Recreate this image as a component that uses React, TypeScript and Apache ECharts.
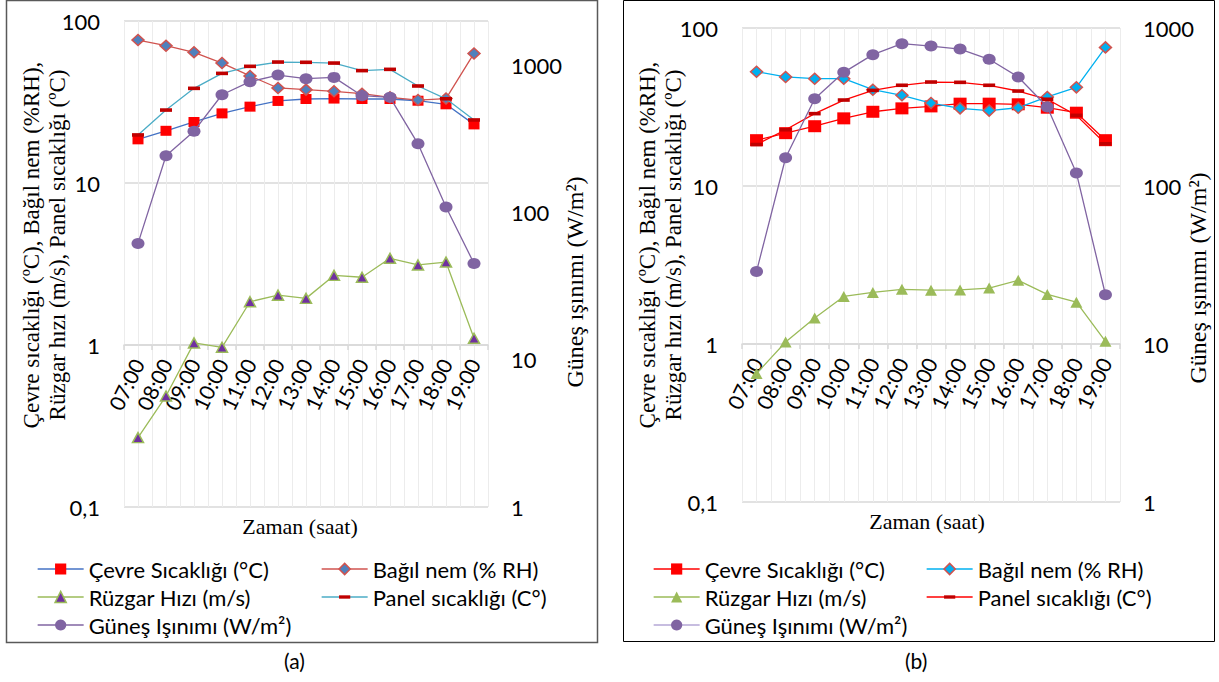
import React, { useEffect, useRef } from 'react';
import * as echarts from 'echarts';

// Categories
const hours = ['07:00', '08:00', '09:00', '10:00', '11:00', '12:00', '13:00', '14:00', '15:00', '16:00', '17:00', '18:00', '19:00'];

// Panel (a)
const cevreA = [18.6, 21.0, 23.8, 26.9, 29.6, 32.1, 33.0, 33.2, 33.0, 33.0, 32.2, 30.6, 23.0];
const bagilA = [76.3, 70.4, 64.1, 55.0, 45.8, 38.6, 37.7, 36.8, 35.6, 33.8, 32.5, 33.2, 63.1];
const ruzgarA = [0.268, 0.484, 1.03, 0.968, 1.85, 2.03, 1.94, 2.69, 2.62, 3.43, 3.12, 3.25, 1.1];
const panelA = [19.8, 28.2, 38.4, 47.5, 52.5, 55.8, 55.6, 55.0, 49.4, 50.3, 39.7, 33.1, 24.5];
const gunesA = [61.7, 243, 357, 631, 774, 859, 811, 828, 622, 606, 293, 109, 45.1];

// Panel (b)
const cevreB = [19.5, 21.6, 23.9, 26.8, 29.5, 31.0, 31.9, 33.2, 33.2, 32.9, 31.3, 29.1, 19.5];
const bagilB = [52.9, 49.0, 47.8, 47.8, 40.7, 37.5, 33.5, 31.0, 30.0, 31.3, 36.6, 42.1, 75.4];
const ruzgarB = [0.65, 1.03, 1.46, 2.0, 2.12, 2.22, 2.19, 2.2, 2.26, 2.53, 2.06, 1.84, 1.04];
const panelB = [18.3, 22.7, 28.7, 35.0, 40.3, 43.4, 45.5, 45.3, 43.4, 39.9, 35.4, 28.0, 18.5];
const gunesB = [28.8, 151, 357, 524, 678, 796, 769, 736, 634, 490, 316, 121, 20.5];

// Texts
const names = ['Çevre Sıcaklığı (°C)', 'Bağıl nem (% RH)', 'Rüzgar Hızı (m/s)', 'Panel sıcaklığı (C°)', 'Güneş Işınımı (W/m²)'];
const leftTitle1 = 'Çevre sıcaklığı (ºC), Bağıl nem (%RH),';
const leftTitle2 = 'Rüzgar hızı (m/s), Panel sıcaklığı (ºC)';
const rightTitle = 'Güneş ışınımı (W/m²)';
const xTitle = 'Zaman (saat)';
const captions = ['(a)', '(b)'];

const SANS = 'Lato';
const SERIF = "'Liberation Serif', 'Times New Roman', serif";
// dash marker inside a square bounding box (so the legend keeps its shape)
const DASH = 'path://M0 0M10 10M0 3.5H10V6.5H0Z';

const logFmt = (v: number) => {
  const l = Math.log10(v);
  if (Math.abs(l - Math.round(l)) > 1e-6) return '';
  if (v < 1) return '0,1';
  return String(Math.round(v));
};

type Style = { line: string; fill: string; border?: string };
type Lay = { leftGap: number; leftPad: number; rightGap: number; rightPad: number; xPad: number };

const serifStyle = (size: number, lh: number, padding: number[]) => ({
  fontFamily: SERIF,
  fontSize: size,
  fontWeight: 'normal',
  fontStyle: 'normal',
  lineHeight: lh,
  color: '#000',
  padding,
});

function buildPanel(idx: number, grid: any, rightMax: number, data: number[][], styles: Style[], sizes: any[], lay: Lay) {
  const xCat = idx * 2;
  const yL = idx * 2;
  const yR = idx * 2 + 1;
  const xAxes = [
    {
      type: 'category',
      gridIndex: idx,
      data: hours,
      boundaryGap: true,
      position: 'bottom',
      offset: -grid.height / 3,
      axisLine: { show: true, lineStyle: { color: '#d9d9d9', width: 1.5 } },
      axisTick: { show: true, length: 5, interval: 0, lineStyle: { color: '#d9d9d9', width: 1.5 } },
      axisLabel: { interval: 0, rotate: 64, margin: 15, fontFamily: SANS, fontSize: 21, color: '#000' },
      splitLine: { show: false },
    },
    {
      type: 'value',
      gridIndex: idx,
      min: 0,
      max: 26,
      interval: 1,
      position: 'bottom',
      axisLine: { show: false },
      axisTick: { show: false },
      axisLabel: { show: false },
      splitLine: { show: true, lineStyle: { color: '#ececec', width: 1 } },
      name: xTitle,
      nameLocation: 'middle',
      nameGap: 8,
      nameMoveOverlap: false,
      nameTextStyle: serifStyle(22, 22, [0, lay.xPad, 0, 0]),
    },
  ];
  const yAxes = [
    {
      type: 'log',
      logBase: 10,
      gridIndex: idx,
      min: 0.1,
      max: 100,
      position: 'left',
      axisLine: { show: false },
      axisTick: { show: false },
      axisLabel: { formatter: logFmt, margin: 24, fontFamily: SANS, fontSize: 22, color: '#000' },
      splitLine: { show: true, lineStyle: { color: '#d9d9d9', width: 1.5 } },
      name: leftTitle1 + '\n' + leftTitle2,
      nameLocation: 'middle',
      nameRotate: 90,
      nameGap: lay.leftGap,
      nameMoveOverlap: false,
      nameTextStyle: serifStyle(23, 26, [0, 0, 0, lay.leftPad]),
    },
    {
      type: 'log',
      logBase: 10,
      gridIndex: idx,
      min: 1,
      max: rightMax,
      position: 'right',
      axisLine: { show: false },
      axisTick: { show: false },
      axisLabel: { formatter: logFmt, margin: 23, fontFamily: SANS, fontSize: 22, color: '#000' },
      splitLine: { show: false },
      name: rightTitle,
      nameLocation: 'middle',
      nameRotate: 90,
      nameGap: lay.rightGap,
      nameMoveOverlap: false,
      nameTextStyle: serifStyle(24, 24, [0, lay.rightPad, 0, 0]),
    },
  ];
  const symbols = ['rect', 'diamond', 'triangle', DASH, 'circle'];
  const series = data.map((d, i) => ({
    type: 'line',
    name: names[i],
    data: d,
    xAxisIndex: xCat,
    yAxisIndex: i === 4 ? yR : yL,
    symbol: symbols[i],
    symbolSize: sizes[i],
    showAllSymbol: true,
    lineStyle: { color: styles[i].line, width: 1.3 },
    itemStyle: {
      color: styles[i].fill,
      borderColor: styles[i].border || styles[i].fill,
      borderWidth: styles[i].border ? 1.5 : 0,
    },
    z: 2 + i,
  }));
  return { xAxes, yAxes, series };
}

const stylesA: Style[] = [
  { line: '#4472C4', fill: '#FF0000' },
  { line: '#D0534F', fill: '#4F81BD', border: '#D0534F' },
  { line: '#9BBB59', fill: '#7030A0', border: '#9BBB59' },
  { line: '#4BACC6', fill: '#C00000' },
  { line: '#8064A2', fill: '#8064A2' },
];
const stylesB: Style[] = [
  { line: '#FF0000', fill: '#FF0000' },
  { line: '#00B0F0', fill: '#00B0F0', border: '#D0534F' },
  { line: '#9BBB59', fill: '#9BBB59' },
  { line: '#FF0000', fill: '#C00000' },
  { line: '#8064A2', fill: '#8064A2' },
];
const legendLineB = ['#FF0000', '#00B0F0', '#9BBB59', '#FF0000', '#B4A7D6'];

function legendItems(ids: number[], styles: Style[], lineColors: string[]) {
  return ids.map((i) => ({
    name: names[i],
    itemStyle: {
      color: styles[i].fill,
      borderColor: styles[i].border || styles[i].fill,
      borderWidth: styles[i].border ? 1.5 : 0,
    },
    lineStyle: { color: lineColors[i], width: 1.3 },
  }));
}

function mkLegend(left: number, top: number, items: any[]) {
  return {
    orient: 'vertical',
    left,
    top,
    itemWidth: 46,
    itemHeight: 14,
    itemGap: 6,
    selectedMode: false,
    padding: 0,
    textStyle: { fontFamily: SANS, fontSize: 22, color: '#000', lineHeight: 22 },
    data: items,
  };
}

const caption = (left: number, text: string) => ({
  text,
  left,
  top: 650,
  padding: 0,
  textStyle: { fontFamily: SANS, fontSize: 21, fontWeight: 'normal', color: '#000' },
});

function buildOption() {
  const gridA = { left: 124, top: 21, width: 364, height: 486 };
  const gridB = { left: 742, top: 28, width: 378, height: 474 };
  const pA = buildPanel(0, gridA, 2000, [cevreA, bagilA, ruzgarA, panelA, gunesA], stylesA, [
    [11, 10], [12, 11], [11, 10], [12, 12], [13, 11],
  ], { leftGap: 54, leftPad: 38, rightGap: 75, rightPad: 36, xPad: 12 });
  const pB = buildPanel(1, gridB, 1000, [cevreB, bagilB, ruzgarB, panelB, gunesB], stylesB, [
    [13, 12], [12, 11], [12, 11], [12, 12], [13, 11],
  ], { leftGap: 56, leftPad: 40, rightGap: 66, rightPad: 26, xPad: 8 });
  const lineA = stylesA.map((s) => s.line);
  return {
    animation: false,
    backgroundColor: '#fff',
    title: [caption(284, captions[0]), caption(905, captions[1])],
    grid: [
      { ...gridA, containLabel: false },
      { ...gridB, containLabel: false },
    ],
    xAxis: [...pA.xAxes, ...pB.xAxes],
    yAxis: [...pA.yAxes, ...pB.yAxes],
    series: [...pA.series, ...pB.series],
    legend: [
      mkLegend(37, 558, legendItems([0, 2, 4], stylesA, lineA)),
      mkLegend(321, 558, legendItems([1, 3], stylesA, lineA)),
      mkLegend(653, 558, legendItems([0, 2, 4], stylesB, legendLineB)),
      mkLegend(926, 558, legendItems([1, 3], stylesB, legendLineB)),
    ],
    graphic: [
      { type: 'rect', shape: { x: 6.5, y: 0.5, width: 591, height: 642 }, style: { fill: 'none', stroke: '#595959', lineWidth: 1.5 }, silent: true },
      { type: 'rect', shape: { x: 623.5, y: 0.5, width: 591, height: 641 }, style: { fill: 'none', stroke: '#000', lineWidth: 1 }, silent: true },
    ],
  } as any;
}

export default function App() {
  const ref = useRef<HTMLDivElement>(null);
  useEffect(() => {
    document.body.style.margin = '0';
    const chart = echarts.init(ref.current!, null, { renderer: 'svg' });
    chart.setOption(buildOption());
    let alive = true;
    const rerender = () => {
      if (!alive) return;
      chart.clear();
      chart.setOption(buildOption());
    };
    const fonts = (document as any).fonts;
    if (fonts && fonts.load) {
      Promise.all([fonts.load('23px "Liberation Serif"'), fonts.load('22px Lato')]).then(rerender, () => {});
    }
    const t = setTimeout(rerender, 250);
    return () => {
      alive = false;
      clearTimeout(t);
      chart.dispose();
    };
  }, []);
  return (
    <div style={{ position: 'relative', width: 1219, height: 682 }}>
      <span
        aria-hidden="true"
        style={{ position: 'absolute', left: 0, top: 0, opacity: 0, pointerEvents: 'none', fontFamily: '"Liberation Serif"', fontSize: 23 }}
      >
        {xTitle}
      </span>
      <div ref={ref} style={{ position: 'absolute', left: 0, top: 0, width: 1219, height: 682 }} />
    </div>
  );
}
